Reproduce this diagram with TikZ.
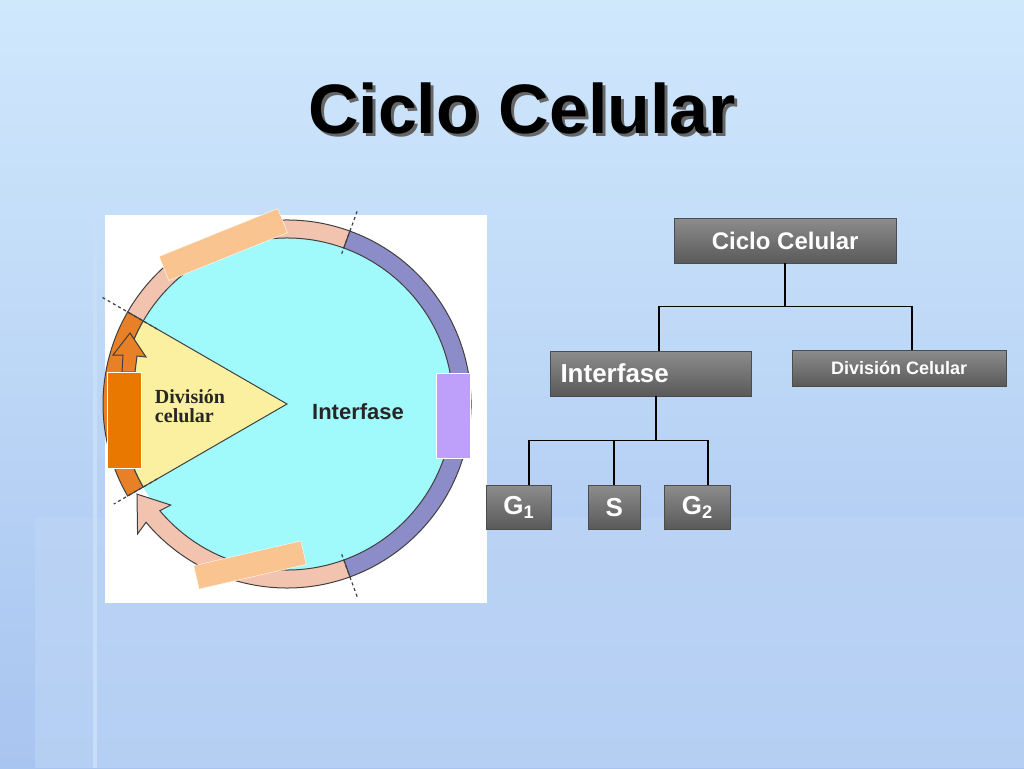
\documentclass[tikz,border=0pt]{standalone}
\usepackage{fontspec}
\setmainfont{Liberation Sans}
\newfontfamily\serifb{Liberation Serif}
\definecolor{bgtop}{RGB}{208,232,252}
\definecolor{bgbot}{RGB}{168,196,240}
\definecolor{panel}{RGB}{190,214,246}
\definecolor{slide}{RGB}{200,222,248}
\definecolor{cyanc}{RGB}{160,250,252}
\definecolor{pinkr}{RGB}{242,196,176}
\definecolor{bluer}{RGB}{140,140,200}
\definecolor{orr}{RGB}{232,128,40}
\definecolor{yel}{RGB}{250,240,160}
\definecolor{peach}{RGB}{250,196,144}
\definecolor{purp}{RGB}{190,160,250}
\definecolor{orrect}{RGB}{232,120,0}
\begin{document}
\begin{tikzpicture}[x=1pt,y=-1pt,
  box/.style={draw=black!70,top color=black!45,bottom color=black!65,text=white,font=\bfseries,inner sep=0pt,anchor=north west},
  tl/.style={line width=1.6pt,black},
  ring/.style={draw=black!75,line width=1pt},
  dl/.style={dashed,black!75,line width=1.2pt}]
\useasboundingbox (0,0) rectangle (1024,768);
\fill[top color=bgtop,bottom color=bgbot] (0,0) rectangle (1024,768);
\fill[panel,opacity=0.6] (35,518) rectangle (1024,768);
\draw[line width=4pt,slide] (95,768) -- (95,207) -- (912,207);
% title
\node[font=\bfseries\fontsize{70}{70}\selectfont,text=black!60] at (525,111) {Ciclo Celular};
\node (title) [font=\bfseries\fontsize{70}{70}\selectfont] at (522,108) {Ciclo Celular};
% diagram image
\fill[white] (105,215) rectangle (487,603);
\begin{scope}[shift={(287,404)},yscale=-1]
\fill[cyanc] (0,0) circle[radius=166];
\fill[pinkr,ring] (150:184) arc[start angle=150,end angle=70,radius=184] -- (70:166) arc[start angle=70,end angle=150,radius=166] -- cycle;
\fill[bluer,ring] (70:184) arc[start angle=70,end angle=-70,radius=184] -- (-70:166) arc[start angle=-70,end angle=70,radius=166] -- cycle;
\fill[pinkr,ring] (-70:184) arc[start angle=-70,end angle=-140,radius=184] -- (-139:198) -- (-149:175) -- (-139:154) -- (-140:166) arc[start angle=-140,end angle=-70,radius=166] -- cycle;
\fill[orr,ring] (-150:184) arc[start angle=-150,end angle=-210,radius=184] -- (150:166) arc[start angle=150,end angle=210,radius=166] -- cycle;
\fill[yel,ring] (0,0) -- (150:166) arc[start angle=150,end angle=210,radius=166] -- cycle;
\draw[dl] (150:150) -- (150:215);
\draw[dl] (210:150) -- (210:200);
\draw[dl] (70:160) -- (70:205);
\draw[dl] (-70:160) -- (-70:205);
\end{scope}
\fill[orr,ring] (113,355) -- (130,333) -- (146,357) -- (137,356) -- (135,372) -- (122,372) -- (123,355) -- cycle;
\node[font=\serifb\bfseries\fontsize{20}{19}\selectfont,align=left,text=black!85] (dc) at (190,406) {División\\celular};
\node[font=\bfseries\fontsize{22}{22}\selectfont,text=black!85] (it) at (358,412) {Interfase};
% overlay rectangles
\fill[peach,draw=white,rotate around={22:(222,244)}] (159,232) rectangle (287,258);
\fill[peach,draw=white,rotate around={13:(250,565)}] (195,553) rectangle (305,577);
\fill[purp,draw=white] (436,373) rectangle (470,458);
\fill[orrect,draw=white] (107,372) rectangle (141,468);
% tree
\node[box,minimum width=222,minimum height=45,font=\bfseries\fontsize{24}{24}\selectfont] (cc) at (674,218) {Ciclo Celular};
\node[box,minimum width=201,minimum height=45,font=\bfseries\fontsize{26}{26}\selectfont] (in) at (550,351) {\hspace*{0pt}Interfase\hspace*{72pt}};
\node[box,minimum width=214,minimum height=36,font=\bfseries\fontsize{18}{18}\selectfont] (dv) at (792,350) {División Celular};
\node[box,minimum width=65,minimum height=44,font=\bfseries\fontsize{26}{26}\selectfont] (g1) at (486,485) {G$_{\mathbf 1}$};
\node[box,minimum width=52,minimum height=44,font=\bfseries\fontsize{26}{26}\selectfont] (s) at (588,485) {S};
\node[box,minimum width=66,minimum height=44,font=\bfseries\fontsize{26}{26}\selectfont] (g2) at (664,485) {G$_{\mathbf 2}$};
\draw[tl] (cc.south) -- ++(0,43) coordinate (j1);
\draw[tl] (in.north -| 659,0) |- (j1) -| (dv.north -| 912,0);
\draw[tl] (in.south -| 656,0) -- ++(0,44) coordinate (j2);
\draw[tl] (g1.north -| 529,0) |- (j2) -| (g2.north -| 708,0);
\draw[tl] (s.north -| 614,0) -- (614,440);
\end{tikzpicture}
\end{document}
